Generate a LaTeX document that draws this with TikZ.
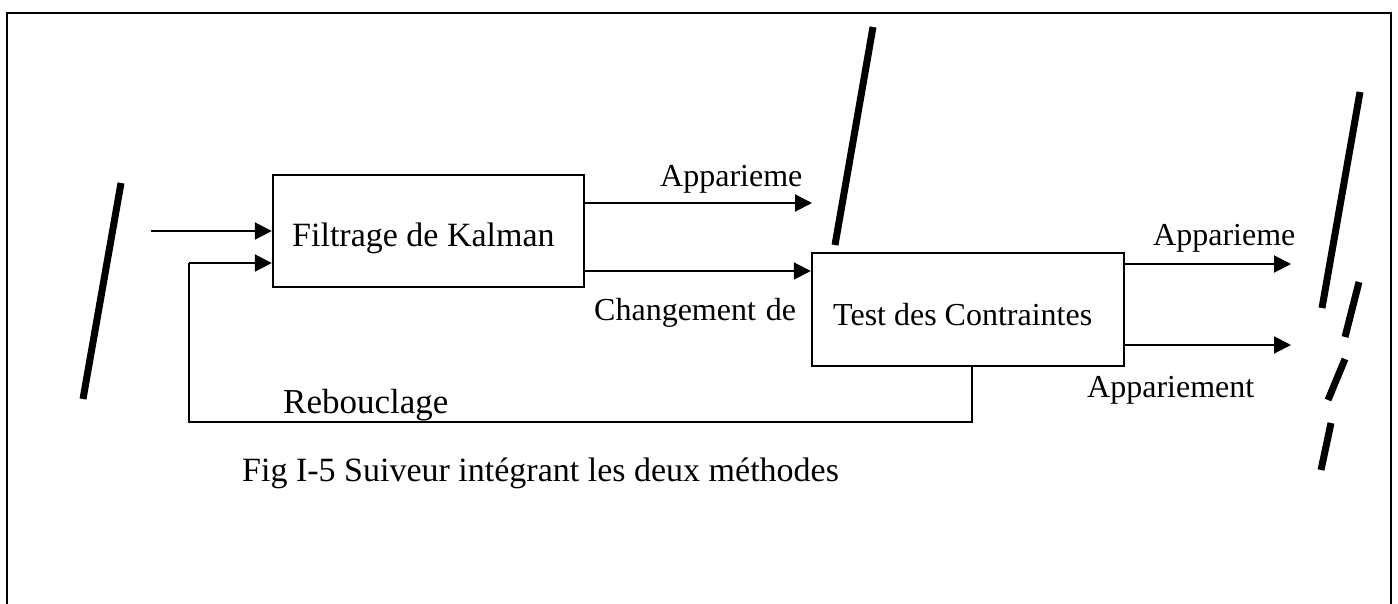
\documentclass[tikz,border=0pt]{standalone}
\usepackage{fontspec}
\setmainfont{Liberation Serif}
\usetikzlibrary{arrows.meta}
\begin{document}
\begin{tikzpicture}[x=1pt,y=-1pt,
  txt/.style={anchor=base west,inner sep=0pt,font=\fontsize{32}{38}\selectfont},
  bigtxt/.style={txt,font=\fontsize{34}{40}\selectfont},
  blockbox/.style={draw,line width=2.4pt,inner sep=0pt},
  arr/.style={line width=2pt,-{Triangle[length=17pt,width=17pt]}},
  wire/.style={line width=2pt},
  slash/.style={line width=7pt}]
\clip (0,0) rectangle (1398,603);
\fill[white] (0,0) rectangle (1398,603);
% outer frame, open at the bottom
\draw[line width=2.5pt] (7,630) -- (7,13) -- (1391,13) -- (1391,630);

% blocks
\node[blockbox,minimum width=311pt,minimum height=112pt] (kal) at (428.5,231) {};
\node[bigtxt] (kaltxt) at (292,246) {Filtrage de Kalman};
\node[blockbox,minimum width=312pt,minimum height=113pt] (tst) at (968,309.5) {};
\node[txt] (tsttxt) at (833,325) {Test des Contraintes};

% input and feedback
\coordinate (in) at (151,231);
\draw[arr] (in) -- (kal.west |- in);
\coordinate (fbl) at (189,422);
\coordinate (fbc) at (189,263);
\draw[wire] (tst.south -| 972,0) -- (972,422) -- (fbl) -- (fbc);
\draw[arr] (fbc) -- (kal.west |- fbc);

% outputs of the filter
\coordinate (o1) at (812,203);
\draw[arr] (kal.east |- o1) -- (o1);
\draw[arr] (kal.east |- 0,271) -- (tst.west |- 0,271);

% outputs of the test
\coordinate (o2) at (1291,264);
\coordinate (o3) at (1291,345);
\draw[arr] (tst.east |- o2) -- (o2);
\draw[arr] (tst.east |- o3) -- (o3);

% labels
\node[txt] (l1) at (660,186) {Apparieme};
\node[txt] (l2) at (594,320) {Changement\hspace{10pt}de};
\node[txt] (l3) at (1153,245) {Apparieme};
\node[txt] (l4) at (1087,397) {Appariement};
\node[txt,font=\fontsize{35}{42}\selectfont] (l5) at (283,413) {Rebouclage};
\node[bigtxt] (cap) at (242,481) {Fig I-5 Suiveur intégrant les deux méthodes};

% separator strokes
\draw[slash] (121,183) -- (83,399);
\draw[slash] (873,27) -- (835,245);
\draw[slash] (1360,92) -- (1322,308);
\draw[slash] (1359,282) -- (1345,337);
\draw[slash] (1345,359) -- (1328,400);
\draw[slash] (1331,423) -- (1321,470);
\end{tikzpicture}
\end{document}
